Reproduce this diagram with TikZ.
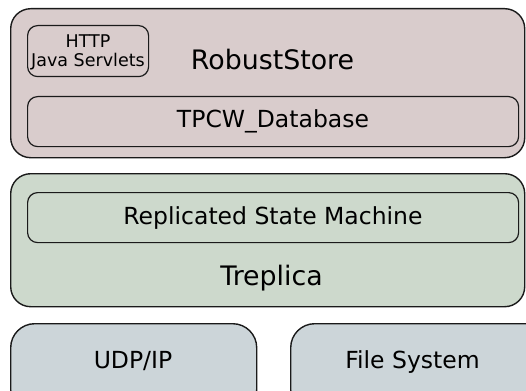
\documentclass[tikz,border=0pt]{standalone}
\usepackage{fontspec}
\setmainfont{DejaVu Sans}
\definecolor{storefill}{HTML}{D9CCCC}
\definecolor{replfill}{HTML}{CDD9CC}
\definecolor{basefill}{HTML}{CCD5D9}
\definecolor{edge}{HTML}{1A1A1A}
\begin{document}
\begin{tikzpicture}[x=1pt,y=-1pt,
  layer/.style={draw=edge,line width=1.4pt,rounded corners=20pt,inner sep=0pt,
    minimum width=#1,anchor=north west},
  part/.style={draw=edge,line width=1.2pt,rounded corners=10pt,inner sep=0pt,anchor=north west},
  big/.style={font=\fontsize{26.8}{29}\selectfont,anchor=base,inner sep=0pt},
  mid/.style={font=\fontsize{23.5}{26}\selectfont,anchor=base,inner sep=0pt},
  small/.style={font=\fontsize{17.5}{19}\selectfont,anchor=base,inner sep=0pt}]
\useasboundingbox (0,0) rectangle (526,390);
\clip (0,0) rectangle (526,390);

% application layer
\node[layer=514pt,minimum height=149pt,fill=storefill] (store) at (10,8) {};
\node[part,minimum width=121pt,minimum height=51pt] (http) at (27,25) {};
\node[part,minimum width=491pt,minimum height=50pt] (db) at (27,96) {};
\node[big] (storelbl) at (272.5,70) {RobustStore};
\node[small] (httplbl) at (88,48) {HTTP};
\node[small] (servlbl) at (88,67) {Java Servlets};
\node[mid] (dblbl) at (273,128) {TPCW\_Database};

% replication layer
\node[layer=514pt,minimum height=133pt,fill=replfill] (repl) at (10,173) {};
\node[part,minimum width=491pt,minimum height=50pt] (rsm) at (27,192) {};
\node[mid] (rsmlbl) at (273,224) {Replicated State Machine};
\node[big] (repllbl) at (271.5,285) {Treplica};

% system services
\node[layer=246pt,minimum height=90pt,fill=basefill,rounded corners=24pt] (udp) at (10,323) {};
\node[layer=260pt,minimum height=90pt,fill=basefill,rounded corners=24pt] (fs) at (290,323) {};
\node[mid] (udplbl) at (133,368) {UDP/IP};
\node[mid] (fslbl) at (412.5,368) {File System};
\end{tikzpicture}
\end{document}
